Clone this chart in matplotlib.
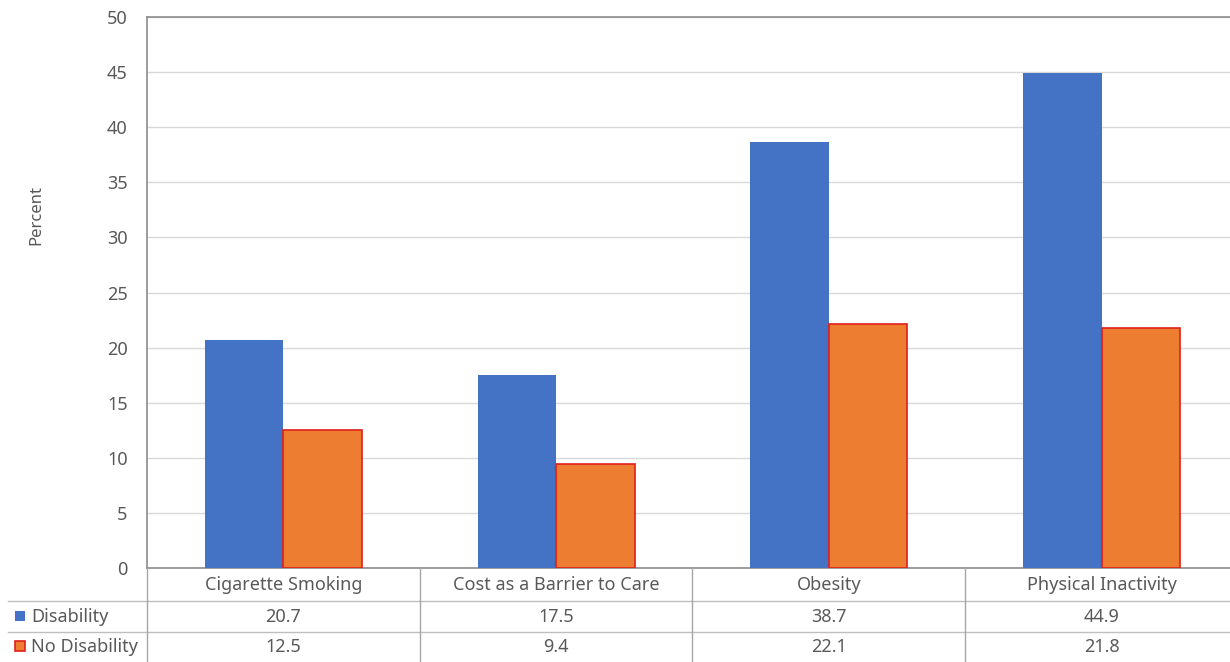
import matplotlib.pyplot as plt
import matplotlib.transforms as mtrans
from matplotlib.patches import Rectangle
import numpy as np

plt.rcParams['font.family'] = ['Noto Sans', 'DejaVu Sans']

categories = ['Cigarette Smoking', 'Cost as a Barrier to Care', 'Obesity', 'Physical Inactivity']
series_names = ['Disability', 'No Disability']
disability = [20.7, 17.5, 38.7, 44.9]
no_disability = [12.5, 9.4, 22.1, 21.8]
yticks = [0, 5, 10, 15, 20, 25, 30, 35, 40, 45, 50]

blue = '#4472C4'
orange = '#ED7D31'
red_edge = '#E0201A'
grid_c = '#d9d9d9'
text_c = '#595959'
fs = 13

W, H = 1230, 662
fig = plt.figure(figsize=(W / 100, H / 100), dpi=100)
# plot area runs a little past the right edge of the picture, as in the reference
ax = fig.add_axes([147 / W, 1 - 568 / H, 1091 / W, (568 - 17) / H])

x = np.arange(len(categories))
bw = 0.288
ax.bar(x - bw / 2, disability, bw, color=blue, zorder=3)
ax.bar(x + bw / 2, no_disability, bw, color=orange, edgecolor=red_edge, linewidth=1.2, zorder=3)

ax.set_xlim(-0.5, len(categories) - 0.5)
ax.set_ylim(0, 50)
ax.set_yticks(yticks)
ax.set_xticks([])
ax.tick_params(axis='y', length=0, pad=14, labelsize=fs, labelcolor=text_c)
ax.yaxis.grid(True, color=grid_c, linewidth=1, zorder=0)
ax.set_axisbelow(True)
for s in ['left', 'top', 'bottom']:
    ax.spines[s].set_color('#8c8c8c')
    ax.spines[s].set_linewidth(1.2)
ax.spines['right'].set_visible(False)
ax.set_ylabel('Percent', fontsize=fs - 1, color=text_c)
ax.yaxis.set_label_coords(-0.094, 0.64)

# data table below the axes
tr = mtrans.blended_transform_factory(ax.transData, fig.transFigure)
figtr = fig.transFigure
y_axis = 1 - 568 / H
y_r1 = 1 - 601 / H
y_r2 = 1 - 632 / H
y_bot = 0.0

for yy in [y_r1, y_r2]:
    fig.add_artist(plt.Line2D([8 / W, 1], [yy, yy], color='#bfbfbf', linewidth=1, transform=figtr))
for b in np.arange(len(categories) + 1) - 0.5:
    fig.add_artist(plt.Line2D([b, b], [y_bot, y_axis], color='#a6a6a6', linewidth=1, transform=tr))

for i, cat in enumerate(categories):
    fig.text(i, (y_axis + y_r1) / 2, cat, transform=tr, ha='center', va='center', fontsize=fs, color=text_c)
    fig.text(i, (y_r1 + y_r2) / 2, f'{disability[i]:.1f}', transform=tr, ha='center', va='center', fontsize=fs, color=text_c)
    fig.text(i, (y_r2 + y_bot) / 2, f'{no_disability[i]:.1f}', transform=tr, ha='center', va='center', fontsize=fs, color=text_c)

# legend keys in the table
fig.add_artist(Rectangle((15 / W, 1 - 621 / H), 10 / W, 10 / H, facecolor=blue, edgecolor='none', transform=figtr))
fig.add_artist(Rectangle((15 / W, 1 - 651 / H), 10 / W, 10 / H, facecolor=orange, edgecolor=red_edge, linewidth=1.2, transform=figtr))
fig.text(31 / W, (y_r1 + y_r2) / 2, series_names[0], ha='left', va='center', fontsize=fs, color=text_c)
fig.text(31 / W, (y_r2 + y_bot) / 2, series_names[1], ha='left', va='center', fontsize=fs, color=text_c)

fig.savefig('out.png', dpi=100)
